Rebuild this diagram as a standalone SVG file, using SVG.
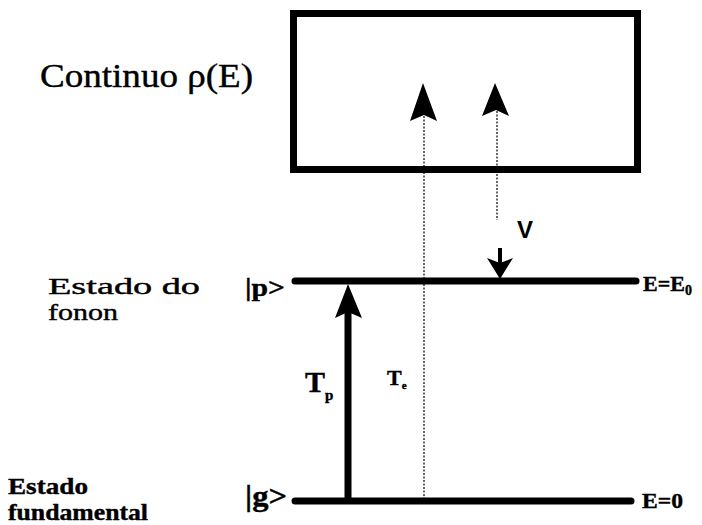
<svg xmlns="http://www.w3.org/2000/svg" width="702" height="525" viewBox="0 0 702 525">
<style>
.t { font-family: "Liberation Serif", "DejaVu Serif", serif; fill: #000; stroke: #000; stroke-width: 0.4; }
.lvl { stroke: #000; stroke-width: 7; stroke-linecap: round; fill: none; }
.dot { stroke: #000; stroke-width: 1.2; stroke-dasharray: 2 1.5; fill: none; }
.head { fill: #000; stroke: none; }
</style>
<rect width="702" height="525" fill="#fff"/>
<g id="continuo">
  <rect x="293.5" y="13.5" width="344" height="156" fill="none" stroke="#000" stroke-width="7"/>
  <text class="t" x="40" y="87" font-family="Liberation Serif, DejaVu Serif, serif" font-size="33" textLength="213" lengthAdjust="spacingAndGlyphs">Continuo ρ(E)</text>
</g>
<g id="fonon">
  <line class="lvl" x1="295" y1="281" x2="636" y2="281"/>
  <text class="t" x="48" y="294" font-family="Liberation Serif, DejaVu Serif, serif" font-size="23" textLength="152" lengthAdjust="spacingAndGlyphs">Estado do</text>
  <text class="t" x="48" y="320" font-family="Liberation Serif, DejaVu Serif, serif" font-size="23" textLength="70" lengthAdjust="spacingAndGlyphs">fonon</text>
  <text class="t" x="245" y="296" font-family="Liberation Serif, DejaVu Serif, serif" font-size="26" font-weight="bold" textLength="40" lengthAdjust="spacingAndGlyphs">|p&gt;</text>
  <text class="t" x="643" y="291" font-family="Liberation Serif, DejaVu Serif, serif" font-size="22" font-weight="bold">E=E<tspan font-size="14" dy="4">0</tspan></text>
</g>
<g id="fundamental">
  <line class="lvl" x1="295" y1="501" x2="631" y2="501"/>
  <text class="t" x="8" y="494" font-family="Liberation Serif, DejaVu Serif, serif" font-size="23" font-weight="bold" textLength="80" lengthAdjust="spacingAndGlyphs">Estado</text>
  <text class="t" x="8" y="520" font-family="Liberation Serif, DejaVu Serif, serif" font-size="23" font-weight="bold" textLength="140" lengthAdjust="spacingAndGlyphs">fundamental</text>
  <text class="t" x="245" y="506" font-family="Liberation Serif, DejaVu Serif, serif" font-size="30" font-weight="bold" textLength="42" lengthAdjust="spacingAndGlyphs">|g&gt;</text>
  <text class="t" x="642" y="508" font-family="Liberation Serif, DejaVu Serif, serif" font-size="22" font-weight="bold" textLength="41" lengthAdjust="spacingAndGlyphs">E=0</text>
</g>
<g id="connectors">
  <line class="dot" x1="424" y1="116" x2="424" y2="499"/>
  <path class="head" d="M423,83 L437,121 L424,115 L410,121 Z"/>
  <line class="dot" x1="497" y1="111" x2="497" y2="220"/>
  <path class="head" d="M495,83 L509,116 L496,110 L482,116 Z"/>
  <line x1="348" y1="501" x2="348" y2="310" stroke="#000" stroke-width="7"/>
  <path class="head" d="M348,284 L362,318 L348,312 L335,318 Z"/>
  <line x1="500" y1="248" x2="500" y2="264" stroke="#000" stroke-width="4"/>
  <path class="head" d="M500,279 L487,258 L500,263 L513,258 Z"/>
  <text x="517" y="238" font-size="24" font-weight="bold" font-family="Liberation Sans, Arial, sans-serif">V</text>
  <text class="t" x="305" y="392" font-family="Liberation Serif, DejaVu Serif, serif" font-size="30" font-weight="bold">T<tspan font-size="15" dy="8">p</tspan></text>
  <text class="t" x="387" y="385" font-family="Liberation Serif, DejaVu Serif, serif" font-size="22" font-weight="bold">T<tspan font-size="11" dy="4">e</tspan></text>
</g>
</svg>
